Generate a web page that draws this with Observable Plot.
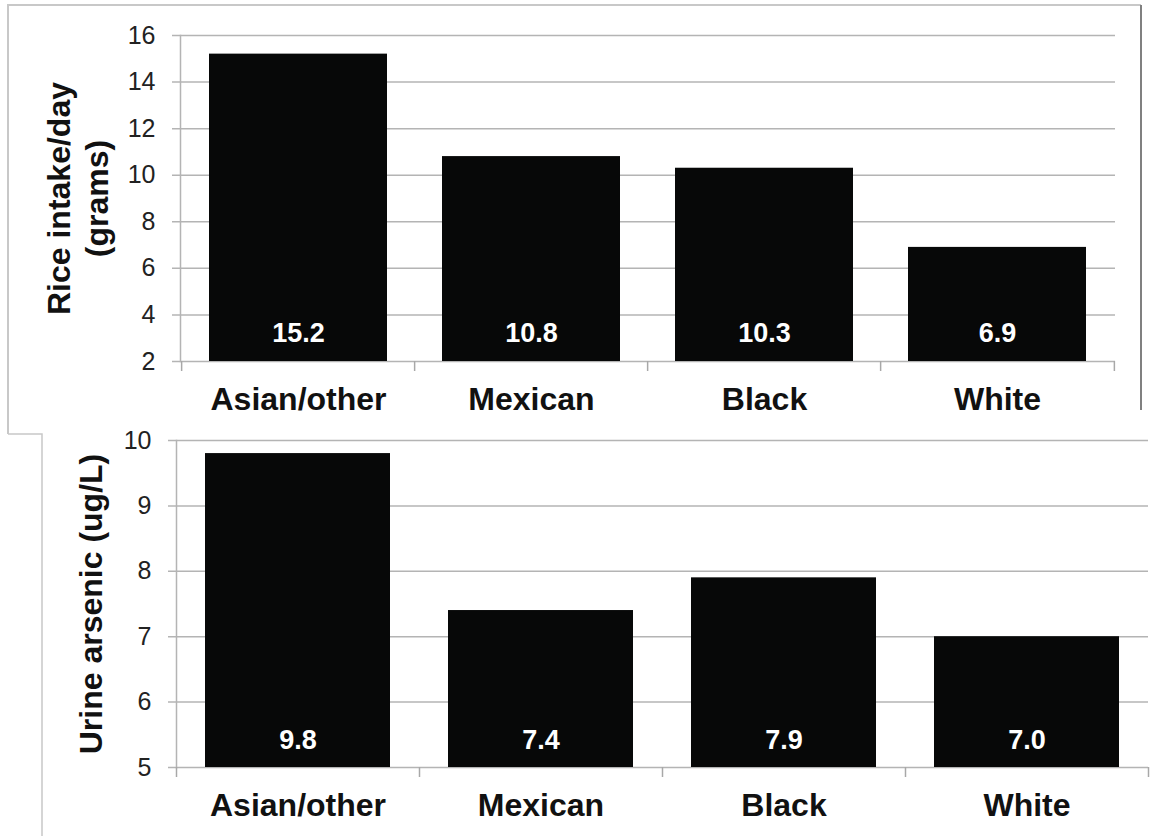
<!DOCTYPE html>
<html>
<head>
<meta charset="utf-8">
<script src="https://cdn.jsdelivr.net/npm/d3@7"></script>
<script src="https://cdn.jsdelivr.net/npm/@observablehq/plot@0.6"></script>
<style>
  html, body { margin: 0; padding: 0; background: #fff; }
  #wrap { position: relative; width: 1153px; height: 836px; overflow: hidden; font-family: "Liberation Sans", Arial, sans-serif; }
  #wrap > .p { position: absolute; left: 0; }
  #deco { position: absolute; left: 0; top: 0; pointer-events: none; }
</style>
</head>
<body>
<div id="wrap">
  <svg id="deco" width="1153" height="836">
    <path d="M8,434 L8,5 L1141,5" fill="none" stroke="#c8c8c8" stroke-width="2"/>
    <path d="M1141,5 L1141,410" fill="none" stroke="#808080" stroke-width="2"/>
    <path d="M8,434 L42,434 L42,836" fill="none" stroke="#c8c8c8" stroke-width="1.5"/>
  </svg>
</div>
<script>
const groups = ["Asian/other", "Mexican", "Black", "White"];
const riceIntake = [15.2, 10.8, 10.3, 6.9];
const urineArsenic = [9.8, 7.4, 7.9, 7.0];
const riceTicks = [2, 4, 6, 8, 10, 12, 14, 16];
const arsenicTicks = [5, 6, 7, 8, 9, 10];
const riceLabel = "Rice intake/day\n(grams)";
const arsenicLabel = "Urine arsenic (ug/L)";

const FONT = "Liberation Sans, Arial, sans-serif";

function build(opts) {
  const data = groups.map((g, i) => ({group: g, value: opts.values[i], text: opts.values[i].toFixed(1)}));
  const width = 1153;
  const {ml, mr, mt, mb, height, ticks} = opts;
  const step = (width - ml - mr) / groups.length;
  const ymin = ticks[0], ymax = ticks[ticks.length - 1];
  const plotH = height - mt - mb;
  const last = groups[groups.length - 1];
  const chart = Plot.plot({
    width, height,
    marginLeft: ml, marginRight: mr, marginTop: mt, marginBottom: mb,
    style: {fontFamily: FONT, background: "transparent", overflow: "visible"},
    x: {domain: groups, paddingInner: opts.pad, paddingOuter: opts.pad / 2, label: null},
    y: {domain: [ymin, ymax], label: null},
    marks: [
      Plot.gridY(ticks, {stroke: "#b4b4b4", strokeOpacity: 1, strokeWidth: 1.5, insetLeft: -8}),
      Plot.frame({anchor: "left", stroke: "#b4b4b4", strokeWidth: 1.5}),
      Plot.barY(data, {x: "group", y1: ymin, y2: "value", fill: "#070808"}),
      Plot.ruleX(groups, {x: (d) => d, dx: -step / 2, stroke: "#a8a8a8", strokeWidth: 1.5, insetTop: plotH, insetBottom: -10}),
      Plot.ruleX([last], {x: (d) => d, dx: step / 2, stroke: "#a8a8a8", strokeWidth: 1.5, insetTop: plotH, insetBottom: -10}),
      Plot.axisY({ticks, tickSize: 0, tickPadding: 25, fontSize: 25, fill: "#222", label: null, tickFormat: (d) => String(d)}),
      Plot.axisX({tickSize: 0, tickPadding: 26, fontSize: 32, fontWeight: "bold", fill: "#111", label: null}),
      Plot.text(data, {x: "group", y: ymin, text: "text", dy: opts.valDy, fill: "#fff", fontSize: 27, fontWeight: "bold"}),
      Plot.text([opts.label], {frameAnchor: "left", rotate: -90, dx: opts.labelDx, textAnchor: "middle", fontSize: 32, fontWeight: "bold", fill: "#111", lineHeight: 1.2})
    ]
  });
  const div = document.createElement("div");
  div.className = "p";
  div.style.top = opts.top + "px";
  div.appendChild(chart);
  document.getElementById("wrap").insertBefore(div, document.getElementById("deco"));
}

build({values: riceIntake, ticks: riceTicks, label: riceLabel, top: 0, height: 430,
  ml: 180, mr: 38, mt: 35, mb: 69, labelDx: -104, valDy: -28, pad: 0.235});
build({values: urineArsenic, ticks: arsenicTicks, label: arsenicLabel, top: 430, height: 406,
  ml: 176, mr: 5, mt: 10, mb: 69, labelDx: -87, valDy: -27, pad: 0.24});
</script>
</body>
</html>
